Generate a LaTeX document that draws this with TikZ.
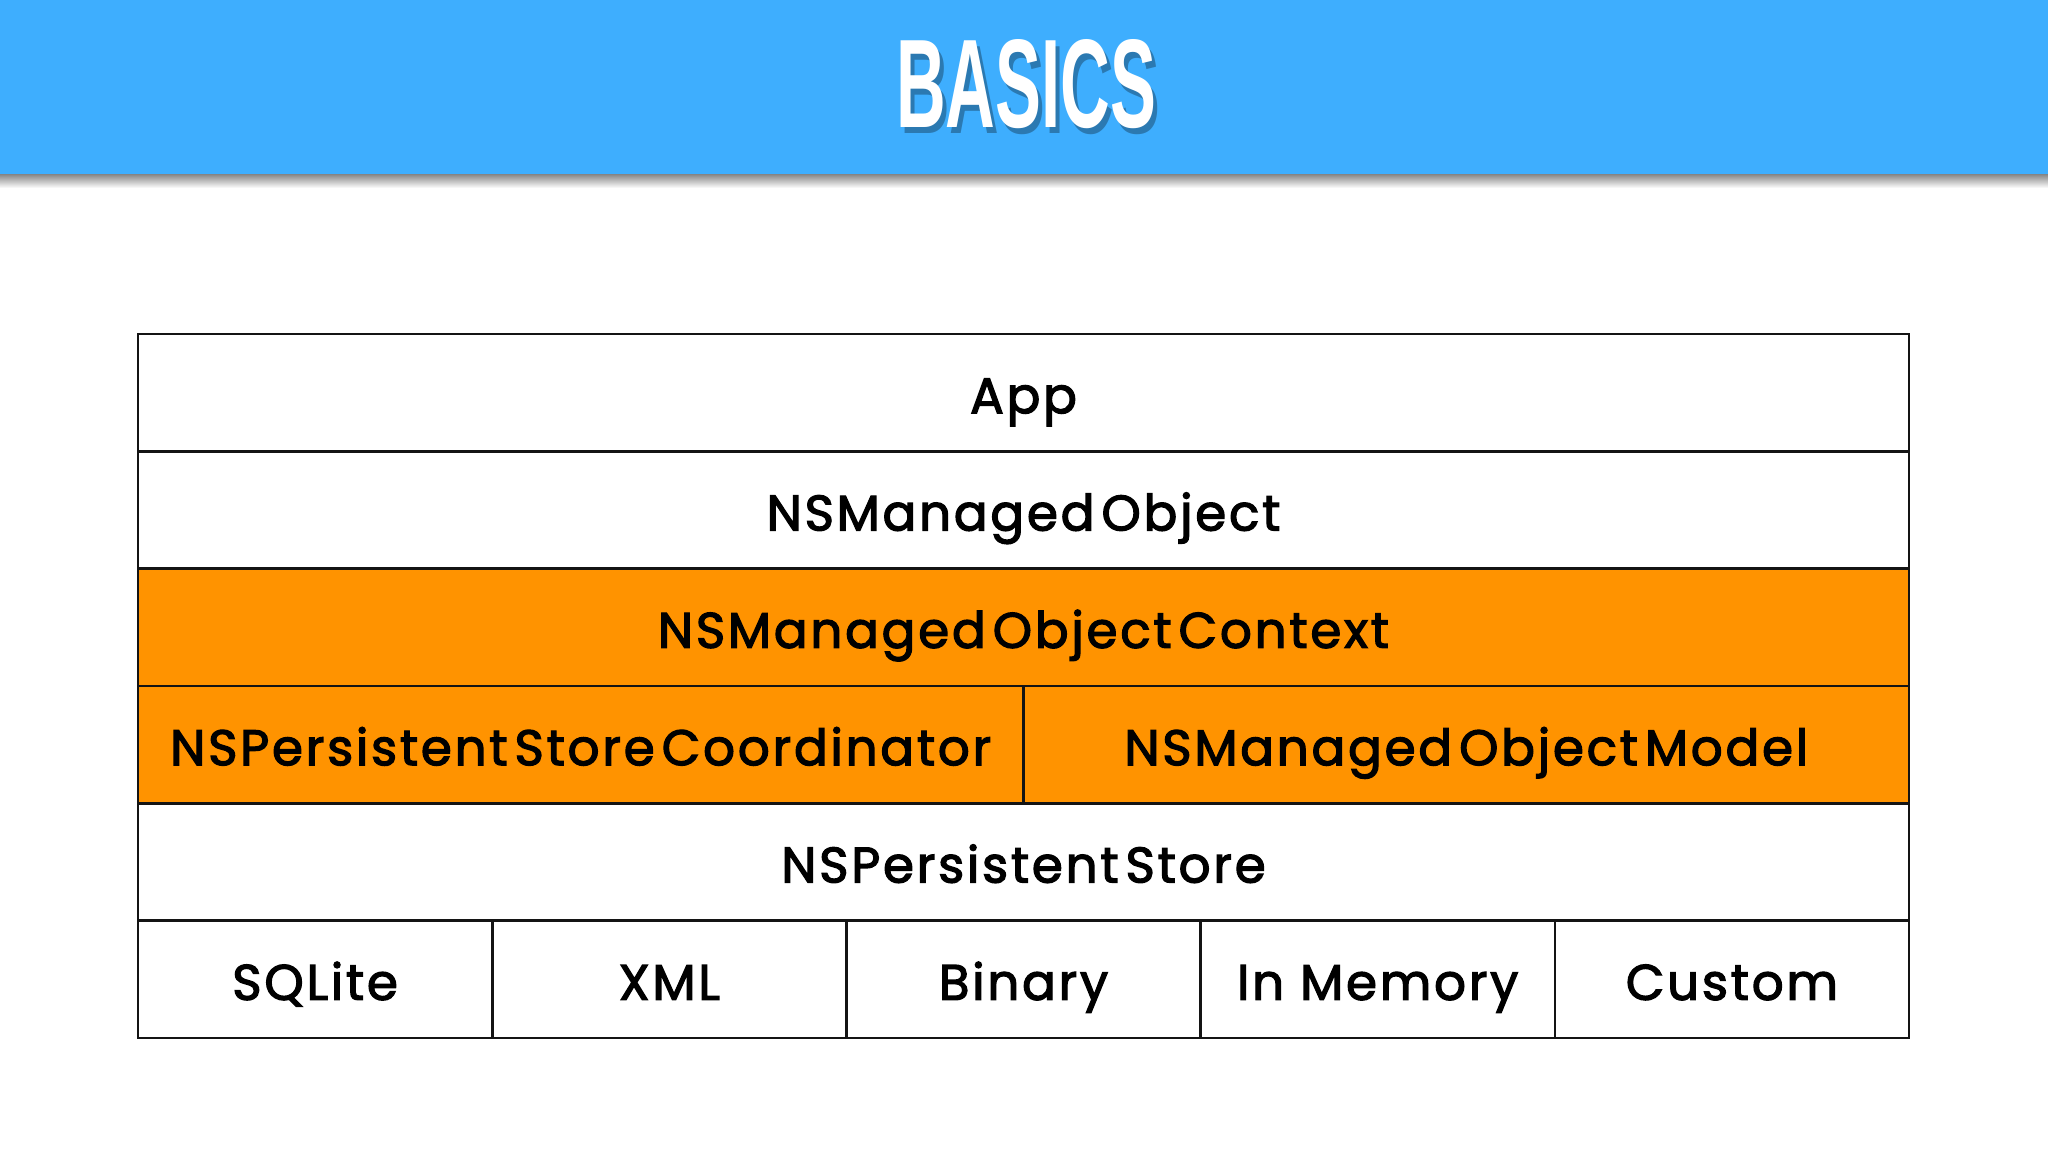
\documentclass[tikz,border=0pt]{standalone}
\usepackage{fontspec}
\usepackage{graphicx}
\newfontfamily\labfont[FakeBold=2.5,LetterSpace=5.5]{Poppins}
\newfontfamily\titlefont{Liberation Sans}
\newcommand{\wgap}{\hspace{0.14em}}
\definecolor{bandblue}{RGB}{62,174,254}
\definecolor{cellorange}{RGB}{255,147,0}
\definecolor{linegray}{RGB}{20,20,20}
\begin{document}
\begin{tikzpicture}[x=0.5pt,y=-0.5pt,
  cell/.style={draw=linegray,line width=1.3pt,inner sep=0pt,outer sep=0pt,
    minimum height=58.67pt,font=\labfont\fontsize{25}{28}\selectfont,
    text height=21.5pt,text depth=1pt},
  wide/.style={cell,minimum width=885.5pt},
  half/.style={cell,minimum width=442.75pt},
  fifth/.style={cell,minimum width=177.1pt},
  plain/.style={fill=white},
  hot/.style={fill=cellorange}]
\useasboundingbox (0,0) rectangle (2048,1152);
\fill[white] (0,0) rectangle (2048,1152);
% header shadow and band
\shade[top color=black!55,bottom color=white] (0,172) rectangle (2048,188);
\fill[bandblue] (0,0) rectangle (2048,174);
\node[text=black,opacity=0.3,inner sep=0pt] (titleshadow) at (1030,90)
  {\resizebox{130pt}{44pt}{\titlefont\bfseries BASICS}};
\node[text=white,inner sep=0pt] (title) at (1026,84)
  {\resizebox{130pt}{44pt}{\titlefont\bfseries BASICS}};
% table
\node[wide,plain] (app) at (1023.5,392.67) {App};
\node[wide,plain] (mo) at (1023.5,510) {NSManaged\wgap Object};
\node[wide,hot] (moc) at (1023.5,627.33) {NSManaged\wgap Object\wgap Context};
\node[half,hot] (psc) at (580.75,744.67) {NSPersistent\wgap Store\wgap Coordinator};
\node[half,hot] (mom) at (1466.25,744.67) {NSManaged\wgap Object\wgap Model};
\node[wide,plain] (ps) at (1023.5,862) {NSPersistent\wgap Store};
\node[fifth,plain] (sqlite) at (315.1,979.33) {SQLite};
\node[fifth,plain] (xml) at (669.3,979.33) {XML};
\node[fifth,plain] (binary) at (1023.5,979.33) {Binary};
\node[fifth,plain] (inmem) at (1377.7,979.33) {In Memory};
\node[fifth,plain] (custom) at (1731.9,979.33) {Custom};
\end{tikzpicture}
\end{document}
